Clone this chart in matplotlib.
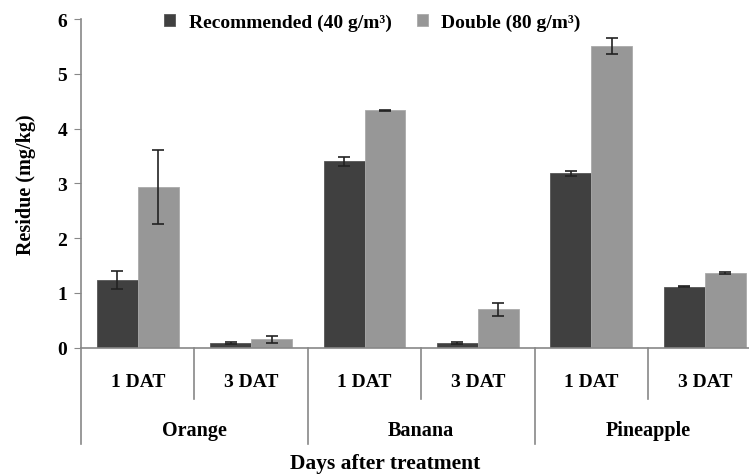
import numpy as np
import matplotlib.pyplot as plt
from matplotlib.transforms import blended_transform_factory

plt.rcParams['font.family'] = ['Liberation Serif', 'DejaVu Serif']
plt.rcParams['font.weight'] = 'bold'

fruits = ['Orange', 'Banana', 'Pineapple']
days = ['1 DAT', '3 DAT']
rec = [1.23, 0.08, 3.40, 0.08, 3.18, 1.11]
rec_err = [0.16, 0.02, 0.08, 0.02, 0.05, 0.01]
dbl = [2.93, 0.15, 4.33, 0.70, 5.51, 1.36]
dbl_err = [0.68, 0.06, 0.01, 0.12, 0.15, 0.02]

W, H = 749, 477
fig = plt.figure(figsize=(W / 100, H / 100), dpi=100)
x0, x1 = 81, 81 + 6 * 113.4
y0, y1 = 348.5, 20
ax = fig.add_axes([x0 / W, (H - y0) / H, (x1 - x0) / W, (y0 - y1) / H])

x = np.arange(6) + 0.5
bw = 0.36
dark = '#404040'
light = '#979797'
ecol = '#222222'
ax.bar(x - bw / 2, rec, bw, color=dark, edgecolor='#555555', linewidth=0.6,
       label='Recommended (40 g/m\u00b3)', zorder=2)
ax.bar(x + bw / 2, dbl, bw, color=light, edgecolor='#aaaaaa', linewidth=0.6,
       label='Double (80 g/m\u00b3)', zorder=2)
ax.errorbar(x - bw / 2, rec, yerr=rec_err, fmt='none', ecolor=ecol,
            elinewidth=1.2, capsize=4.5, capthick=1.2, zorder=3)
ax.errorbar(x + bw / 2, dbl, yerr=dbl_err, fmt='none', ecolor=ecol,
            elinewidth=1.2, capsize=4.5, capthick=1.2, zorder=3)

ax.set_xlim(0, 6)
ax.set_ylim(0, 6)
ax.set_yticks(range(7))
ax.tick_params(axis='y', labelsize=14, length=5, color='#888888', pad=5)
ax.set_xticks([])
for s in ['top', 'right']:
    ax.spines[s].set_visible(False)
for s in ['left', 'bottom']:
    ax.spines[s].set_color('#888888')
    ax.spines[s].set_linewidth(1.2)
ax.set_ylabel('Residue (mg/kg)', fontsize=14.5, fontweight='bold', labelpad=15)

# two-level category axis
tr = blended_transform_factory(ax.transData, ax.transAxes)
for i in range(7):
    bottom = -0.294 if i % 2 == 0 else -0.157
    ax.plot([i, i], [0, bottom], transform=tr, color='#888888', lw=1.2,
            clip_on=False)
for i, xi in enumerate(x):
    ax.text(xi, -0.105, days[i % 2], transform=tr, ha='center', va='center',
            fontsize=14, fontweight='bold')
for j, f in enumerate(fruits):
    ax.text(2 * j + 1, -0.251, f, transform=tr, ha='center', va='center',
            fontsize=14.5, fontweight='bold')
ax.text(2.68, -0.353, 'Days after treatment', transform=tr, ha='center',
        va='center', fontsize=15.5, fontweight='bold')

fig.legend(*ax.get_legend_handles_labels(), loc='center',
           bbox_to_anchor=(372.5 / W, (H - 23) / H), ncol=2,
           frameon=False, prop={'weight': 'bold', 'size': 14},
           handlelength=0.55, handleheight=0.55, handletextpad=0.7,
           columnspacing=1.3)

fig.savefig('out.png', dpi=100)
